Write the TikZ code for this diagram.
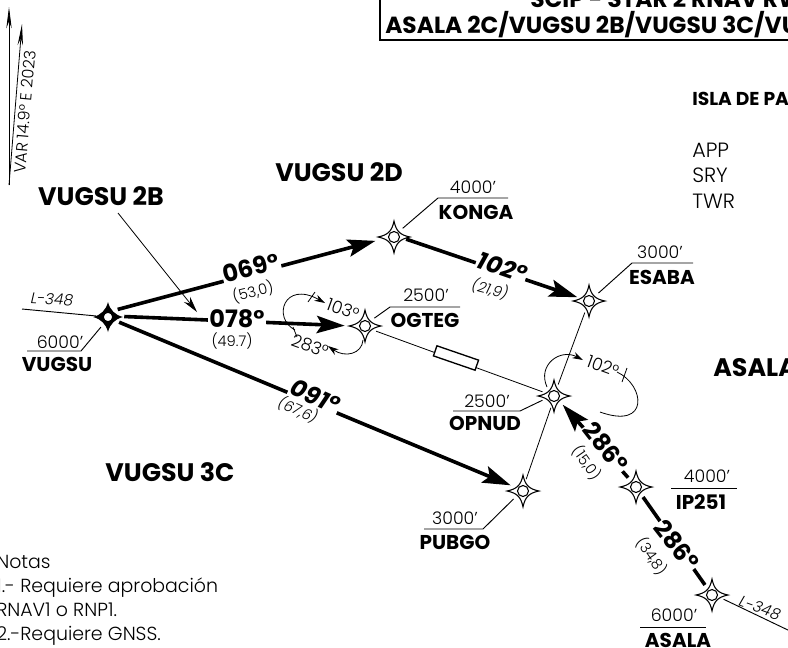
\documentclass[tikz,border=0pt]{standalone}
\usepackage{fontspec}
\setmainfont{Poppins}[UprightFont=* Light,ItalicFont=* Light Italic,BoldFont=* Bold,BoldItalicFont=* Bold Italic]
\usetikzlibrary{arrows.meta}
\tikzset{
  wpt/.style={circle,minimum size=18pt,inner sep=0pt},
  wptstar/.pic={
    \draw[line width=0.8pt,fill=white] (0,-16) .. controls (2,-6) and (6,-2) .. (16,0) .. controls (6,2) and (2,6) .. (0,16) .. controls (-2,6) and (-6,2) .. (-16,0) .. controls (-6,-2) and (-2,-6) .. cycle;
    \draw[line width=0.8pt] (0,0) circle (5.5);
  },
  wptfill/.pic={
    \fill (0,-15) .. controls (2,-7) and (7,-2) .. (15,0) .. controls (7,2) and (2,7) .. (0,15) .. controls (-2,7) and (-7,2) .. (-15,0) .. controls (-7,-2) and (-2,-7) .. cycle;
    \draw[line width=1.2pt,fill=white] (0,0) circle (5);
  },
  leg/.style={line width=2.7pt,-{Stealth[length=21pt,width=13pt,inset=4pt]}},
  legplain/.style={line width=2.7pt},
  thin/.style={line width=0.6pt},
  leader/.style={line width=0.7pt},
  bigname/.style={font=\fontsize{19}{21}\selectfont\bfseries,inner sep=0pt},
  boxname/.style={font=\fontsize{17.5}{20}\selectfont\bfseries,inner sep=0pt,anchor=base west},
  fixname/.style={font=\fontsize{15}{17}\selectfont\bfseries,inner sep=0pt},
  alt/.style={font=\fontsize{13}{15}\selectfont,inner sep=0pt},
  hdg/.style={font=\fontsize{18}{20}\selectfont\bfseries,fill=white,inner sep=1pt},
  hdgit/.style={hdg,font=\fontsize{18}{20}\selectfont\bfseries\itshape},
  dist/.style={font=\fontsize{11}{13}\selectfont,inner sep=0pt},
  distit/.style={dist,font=\fontsize{11}{13}\selectfont\itshape},
  airway/.style={font=\fontsize{11.5}{13}\selectfont\itshape,inner sep=0pt},
  small/.style={font=\fontsize{13}{15}\selectfont,inner sep=0pt},
  freq/.style={font=\fontsize{15.5}{18}\selectfont,inner sep=0pt,anchor=base west},
  note/.style={font=\fontsize{14.2}{16}\selectfont,inner sep=0pt,anchor=base west},
}
\begin{document}
\begin{tikzpicture}[x=0.75pt,y=-0.75pt]
   \useasboundingbox (0,0) rectangle (788,647);

   \foreach \n/\x/\y in {konga/394/237,esaba/589/301,ogteg/365/326,opnud/554/396,pubgo/523/491,ipfix/636/487,asala/712/595}{
     \node[wpt] (\n) at (\x,\y) {};
     \pic at (\n) {wptstar};
   }
   \node[wpt] (vugsu) at (108,317) {};
   \pic at (vugsu) {wptfill};

   \coordinate (boxa) at (380,-10);
   \coordinate (boxb) at (380,40);
   \coordinate (boxc) at (800,40);
   \draw[line width=1.2pt] (boxa) -- (boxb) -- (boxc);
   \node[boxname] (boxtop) at (530,7) {SCIP - STAR 2 RNAV RW};
   \node[boxname] (boxlow) at (385,33) {ASALA 2C/VUGSU 2B/VUGSU 3C/VU};

   \node[font=\fontsize{14}{16}\selectfont\bfseries,inner sep=0pt,anchor=base west] (isla) at (692,105) {ISLA DE PA};
   \node[freq] (app) at (692,157) {APP};
   \node[freq] (sry) at (692,182) {SRY};
   \node[freq] (twr) at (692,208) {TWR};

   \coordinate (vara) at (9,185);
   \coordinate (varb) at (9,7);
   \coordinate (varc) at (22,24);
   \draw[thin,-{Stealth[length=16pt,width=4pt]}] (vara) -- (varb);
   \draw[thin,-{Stealth[length=16pt,width=4pt]}] (vara) -- (varc);
   \node[font=\fontsize{12}{14}\selectfont,inner sep=0pt,rotate=85] (var) at (25,112) {VAR 14.9° E 2023};

   \node[bigname] (lbla) at (101,196) {VUGSU 2B};
   \node[bigname] (lblb) at (339,172) {VUGSU 2D};
   \node[bigname] (lblc) at (170,472) {VUGSU 3C};
   \node[bigname,anchor=west] (lbld) at (713,368) {ASALA};

   \coordinate (pointer) at (118,213);
   \draw[thin,-{Stealth[length=12pt,width=6pt]}] (pointer) -- (197,312);

   \draw[leg,shorten >=5pt] (vugsu.38) -- (konga.190);
   \draw[leg,shorten >=6pt,shorten <=3pt] (vugsu.3) -- (ogteg.180);
   \draw[leg,shorten >=1pt] (vugsu.-25) -- (pubgo.155);
   \draw[leg] (konga.-10) -- (esaba.162);
   \draw[legplain] (asala.125) -- (ipfix.-55);
   \draw[leg] (ipfix.130) -- (opnud.-45);

   \draw[thin] (esaba.-110) -- (opnud.70);
   \draw[thin] (opnud.-105) -- (pubgo.75);
   \draw[thin] (ogteg.-25) -- (opnud.160);
   \node[draw,line width=1pt,fill=white,rotate=-19,minimum width=33pt,minimum height=8pt,inner sep=0pt] (rect) at (456,358) {};

   \node[hdg,rotate=15] (h069) at (251,268) {069°};
   \node[dist,rotate=14] (d069) at (253,292) {(53,0)};
   \node[hdg] (h078) at (237,319) {078°};
   \node[dist] (d078) at (232,341) {(49.7)};
   \node[hdgit,rotate=-24] (h091) at (315,396) {091°};
   \node[distit,rotate=-24] (d091) at (298,410) {(67,6)};
   \node[hdgit,rotate=-19] (h102) at (502,267) {102°};
   \node[distit,rotate=-15] (d102) at (490,289) {(21,9)};
   \node[hdg,rotate=-52] (h286a) at (606,447) {286°};
   \node[dist,rotate=-55] (d286a) at (587,463) {(15,0)};
   \node[hdg,rotate=-52] (h286b) at (677,545) {286°};
   \node[dist,rotate=-55] (d286b) at (652,556) {(34,8)};

   \coordinate (hola) at (295,330);
   \coordinate (holb) at (325,303);
   \coordinate (holc) at (363,340);
   \coordinate (hold) at (328,346);
   \draw[thin,-{Stealth[length=8pt,width=5pt]}] (hola) .. controls (272,318) and (284,280) .. (holb);
   \draw[thin,-{Stealth[length=8pt,width=5pt]}] (holc) .. controls (362,354) and (345,358) .. (hold);
   \draw[thin] (308,302) -- (315,292);
   \draw[thin] (293,327) -- (297,337);
   \node[small,rotate=-20] (l103) at (343,309) {103°};
   \node[small,rotate=-20] (l283) at (310,346) {283°};

   \coordinate (hole) at (547,387);
   \coordinate (holf) at (583,360);
   \coordinate (holg) at (617,372);
   \coordinate (holh) at (600,412);
   \draw[thin,-{Stealth[length=8pt,width=5pt]}] (hole) .. controls (537,365) and (560,348) .. (holf);
   \draw[thin] (holg) .. controls (645,385) and (650,430) .. (holh);
   \draw[thin] (627,368) -- (622,382);
   \node[small,rotate=-20] (l102) at (603,366) {102°};

   \coordinate (kongaa) at (438,198);
   \coordinate (kongab) at (508,198);
   \draw[leader] (konga.45) -- (kongaa) -- (kongab);
   \node[alt] (kongaalt) at (473,187) {4000'};
   \node[fixname] (kongafix) at (476,212) {KONGA};

   \coordinate (esabaa) at (632,263);
   \coordinate (esabab) at (693,263);
   \draw[leader] (esaba.40) -- (esabaa) -- (esabab);
   \node[alt] (esabaalt) at (660,252) {3000'};
   \node[fixname] (esabafix) at (662,277) {ESABA};

   \coordinate (ogtega) at (390,307);
   \coordinate (ogtegb) at (460,307);
   \draw[leader] (ogteg.40) -- (ogtega) -- (ogtegb);
   \node[alt] (ogtegalt) at (426,295) {2500'};
   \node[fixname] (ogtegfix) at (425,320) {OGTEG};

   \coordinate (opnuda) at (520,411);
   \coordinate (opnudb) at (453,411);
   \draw[leader] (opnud.200) -- (opnuda) -- (opnudb);
   \node[alt] (opnudalt) at (487,401) {2500'};
   \node[fixname] (opnudfix) at (485,423) {OPNUD};

   \coordinate (pubgoa) at (483,529);
   \coordinate (pubgob) at (424,529);
   \draw[leader] (pubgo.220) -- (pubgoa) -- (pubgob);
   \node[alt] (pubgoalt) at (455,518) {3000'};
   \node[fixname] (pubgofix) at (455,542) {PUBGO};

   \coordinate (ipfixa) at (671,488);
   \coordinate (ipfixb) at (737,488);
   \draw[leader] (ipfixa) -- (ipfixb);
   \node[alt] (ipfixalt) at (707,476) {4000'};
   \node[fixname] (ipfixfix) at (701,502) {IP251};

   \coordinate (asalaa) at (640,627);
   \coordinate (asalab) at (706,627);
   \draw[leader] (asalaa) -- (asalab);
   \node[alt] (asalaalt) at (674,615) {6000'};
   \node[fixname] (asalafix) at (678,640) {ASALA};

   \coordinate (vugsua) at (81,351);
   \coordinate (vugsub) at (27,351);
   \draw[leader] (vugsu.235) -- (vugsua) -- (vugsub);
   \node[alt] (vugsualt) at (60,342) {6000'};
   \node[fixname] (vugsufix) at (57,364) {VUGSU};

   \coordinate (westl) at (22,309);
   \draw[leader] (westl) -- (vugsu.175);
   \node[airway,rotate=-3] (lwest) at (52,299) {L-348};
   \coordinate (eastl) at (790,631);
   \draw[leader] (asala.-20) -- (eastl);
   \node[airway,rotate=-20] (least) at (760,608) {L-348};

   \node[note] (nota) at (-4,568) {Notas};
   \node[note] (notb) at (-4,592) {1.-  Requiere aprobación};
   \node[note] (notc) at (-4,616) {RNAV1 o RNP1.};
   \node[note] (notd) at (-4,640) {2.-Requiere GNSS.};
 \end{tikzpicture}
\end{document}
